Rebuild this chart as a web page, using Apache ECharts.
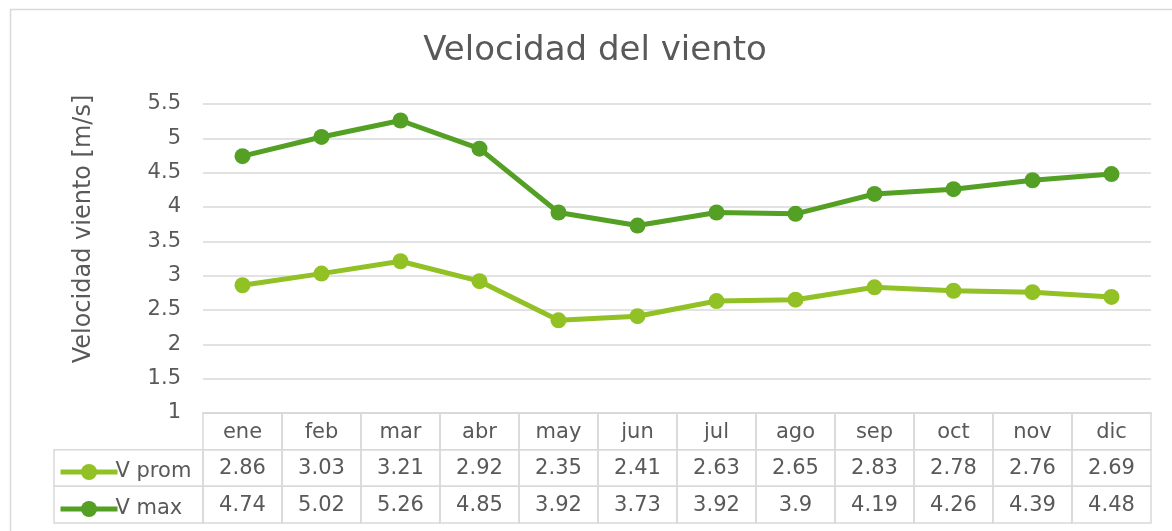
<!DOCTYPE html>
<html>
<head>
<meta charset="utf-8">
<script src="https://cdn.jsdelivr.net/npm/echarts@6/dist/echarts.min.js"></script>
<style>
  html, body { margin: 0; padding: 0; background: #ffffff; }
  #chart { width: 1172px; height: 531px; }
</style>
</head>
<body>
<div id="chart"></div>
<script>
// Monthly wind speed (m/s)
const months = ['ene', 'feb', 'mar', 'abr', 'may', 'jun', 'jul', 'ago', 'sep', 'oct', 'nov', 'dic'];
const vProm = [2.86, 3.03, 3.21, 2.92, 2.35, 2.41, 2.63, 2.65, 2.83, 2.78, 2.76, 2.69];
const vMax = [4.74, 5.02, 5.26, 4.85, 3.92, 3.73, 3.92, 3.9, 4.19, 4.26, 4.39, 4.48];
const seriesNames = ['V prom', 'V max'];
const yTicks = { min: 1, max: 5.5, step: 0.5 };

const FONT = 'DejaVu Sans';
const TXT = '#595959';
const BORDER = '#d9d9d9';
const C_PROM = '#92c125';
const C_MAX = '#53a024';

const GRID_LEFT = 203, GRID_RIGHT = 21;
const LEGEND_CELL_LEFT = 54;

// table rows: header with month names, then one row per series
const tableRows = [months, vProm.map(String), vMax.map(String)];
const tableData = [];
tableRows.forEach((row, r) => row.forEach((txt, c) => tableData.push([c, r, txt])));

const chart = echarts.init(document.getElementById('chart'), null, { renderer: 'canvas' });

function renderCell(params, api) {
  const c = api.value(0), r = api.value(1);
  const center = api.coord([c, r]);
  const size = api.size([1, 1]);
  const x0 = center[0] - size[0] / 2, y0 = center[1] - size[1] / 2;
  const children = [
    { type: 'rect', shape: { x: x0, y: y0, width: size[0], height: size[1] },
      style: { fill: 'none', stroke: BORDER, lineWidth: 1.5 } },
    { type: 'text', x: center[0], y: center[1] + 1,
      style: { text: tableRows[r][c], fill: TXT, font: '21px "' + FONT + '"', align: 'center', verticalAlign: 'middle' } }
  ];
  if (c === 0 && r > 0) {
    children.push({ type: 'rect', shape: { x: LEGEND_CELL_LEFT, y: y0, width: x0 - LEGEND_CELL_LEFT, height: size[1] },
      style: { fill: 'none', stroke: BORDER, lineWidth: 1.5 } });
  }
  return { type: 'group', children };
}

chart.setOption({
  backgroundColor: '#ffffff',
  animation: false,
  textStyle: { fontFamily: FONT },
  legend: {
    orient: 'vertical',
    left: 53, top: 456,
    itemWidth: 57, itemHeight: 20, itemGap: 15,
    data: seriesNames,
    lineStyle: { width: 5 },
    textStyle: { fontFamily: FONT, fontSize: 21, color: TXT, lineHeight: 22, padding: [0, 0, 0, -7] }
  },
  graphic: [
    { type: 'rect', left: 8, top: 7, shape: { width: 1300, height: 700 },
      style: { fill: 'none', stroke: BORDER, lineWidth: 1.5 }, silent: true },
    { type: 'text', x: 595, y: 51,
      style: { text: 'Velocidad del viento', fill: TXT, font: '34px "' + FONT + '"', align: 'center', verticalAlign: 'middle' } },
    { type: 'text', x: 84, y: 229, rotation: Math.PI / 2,
      style: { text: 'Velocidad viento [m/s]', fill: TXT, font: '24px "' + FONT + '"', align: 'center', verticalAlign: 'middle' } }
  ],
  grid: [
    { left: GRID_LEFT, right: GRID_RIGHT, top: 104, bottom: 118 },
    { left: GRID_LEFT, right: GRID_RIGHT, top: 413, height: 110 }
  ],
  xAxis: [
    { type: 'category', gridIndex: 0, data: months, boundaryGap: true,
      axisLine: { lineStyle: { color: BORDER, width: 1.5 } },
      axisTick: { show: false }, axisLabel: { show: false } },
    { type: 'category', gridIndex: 1, data: months, boundaryGap: true,
      axisLine: { show: false }, axisTick: { show: false }, axisLabel: { show: false } }
  ],
  yAxis: [
    { type: 'value', gridIndex: 0, min: yTicks.min, max: yTicks.max, interval: yTicks.step,
      axisLine: { show: false }, axisTick: { show: false },
      axisLabel: { color: TXT, fontSize: 21, fontFamily: FONT, margin: 22 },
      splitLine: { lineStyle: { color: BORDER, width: 1.5 } } },
    { type: 'category', gridIndex: 1, data: ['h', 'p', 'm'], inverse: true,
      axisLine: { show: false }, axisTick: { show: false }, axisLabel: { show: false }, splitLine: { show: false } }
  ],
  series: [
    { name: seriesNames[0], type: 'line', data: vProm, xAxisIndex: 0, yAxisIndex: 0,
      color: C_PROM, symbol: 'circle', symbolSize: 16,
      lineStyle: { width: 5, color: C_PROM }, itemStyle: { color: C_PROM } },
    { name: seriesNames[1], type: 'line', data: vMax, xAxisIndex: 0, yAxisIndex: 0,
      color: C_MAX, symbol: 'circle', symbolSize: 16,
      lineStyle: { width: 5, color: C_MAX }, itemStyle: { color: C_MAX } },
    { name: 'tabla', type: 'custom', xAxisIndex: 1, yAxisIndex: 1,
      data: tableData, renderItem: renderCell, silent: true }
  ]
});
</script>
</body>
</html>
